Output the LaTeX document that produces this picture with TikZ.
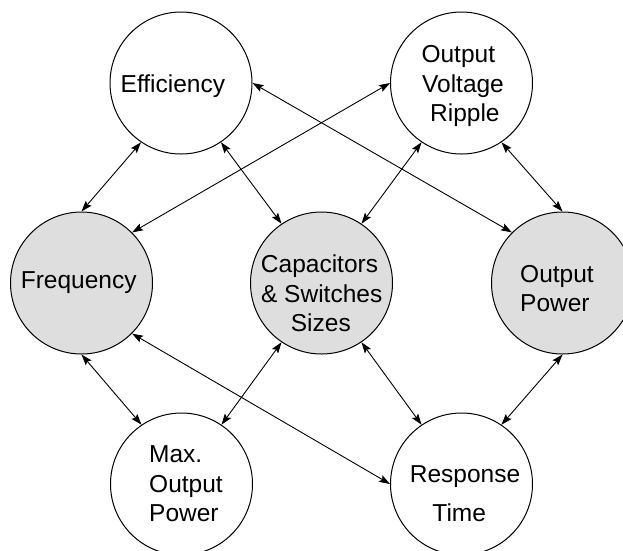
\documentclass[tikz,border=0pt]{standalone}
\usepackage{fontspec}
\setmainfont{Liberation Sans}
\usetikzlibrary{arrows.meta}

\definecolor{shade}{RGB}{222,222,222}

\tikzset{
  bubble/.style={circle, draw, line width=1pt, minimum size=142pt, inner sep=0pt},
  keybubble/.style={bubble, fill=shade},
  txt/.style={inner sep=0pt, font=\fontsize{24.5}{29.5}\selectfont},
  link/.style={line width=0.9pt, >={Stealth[length=11pt,width=7.5pt,inset=2pt]}, <->},
}

\begin{document}
\begin{tikzpicture}[x=1pt, y=-1pt]
\useasboundingbox (0,0) rectangle (623,550);

% circles
\node[bubble]    (eff)  at (181,83)    {};
\node[bubble]    (rip)  at (461.5,83)  {};
\node[keybubble] (freq) at (81.5,283)  {};
\node[keybubble] (cap)  at (321.5,283) {};
\node[keybubble] (op)   at (562.5,283) {};
\node[bubble]    (max)  at (181.5,484) {};
\node[bubble]    (resp) at (461.5,484) {};

% labels, one line per node, placed on their baselines
\node[txt, anchor=base] (eff-l1)  at (172.9,92.7)  {Efficiency};
\node[txt, anchor=base] (rip-l1)  at (458.3,62.7)  {Output};
\node[txt, anchor=base] (rip-l2)  at (463,92.7)    {Voltage};
\node[txt, anchor=base] (rip-l3)  at (464.9,121.7) {Ripple};
\node[txt, anchor=base] (freq-l1) at (78.7,288.3)  {Frequency};
\node[txt, anchor=base] (cap-l1)  at (319.5,272.3) {Capacitors};
\node[txt, anchor=base] (cap-l2)  at (321.7,302.3) {\& Switches};
\node[txt, anchor=base] (cap-l3)  at (320.8,331.7) {Sizes};
\node[txt, anchor=base west] (op-l1) at (520,282.7) {Output};
\node[txt, anchor=base west] (op-l2) at (520,311.7) {Power};
\node[txt, anchor=base west] (max-l1) at (149,462.7) {Max.};
\node[txt, anchor=base west] (max-l2) at (149,492.3) {Output};
\node[txt, anchor=base west] (max-l3) at (149,521.7) {Power};
\node[txt, anchor=base] (resp-l1) at (465,482.3)   {Response};
\node[txt, anchor=base] (resp-l2) at (459.2,521.7) {Time};

% dependencies
\draw[link] (eff.236)  -- (freq.90);
\draw[link] (eff.304)  -- (cap.124);
\draw[link] (rip.180)  -- (freq.45);
\draw[link] (eff.0)    -- (op.135);
\draw[link] (rip.236)  -- (cap.56);
\draw[link] (rip.304)  -- (op.90);
\draw[link] (freq.270) -- (max.124);
\draw[link] (freq.315) -- (resp.180);
\draw[link] (cap.236)  -- (max.56);
\draw[link] (cap.304)  -- (resp.124);
\draw[link] (op.270)   -- (resp.56);
\end{tikzpicture}
\end{document}
